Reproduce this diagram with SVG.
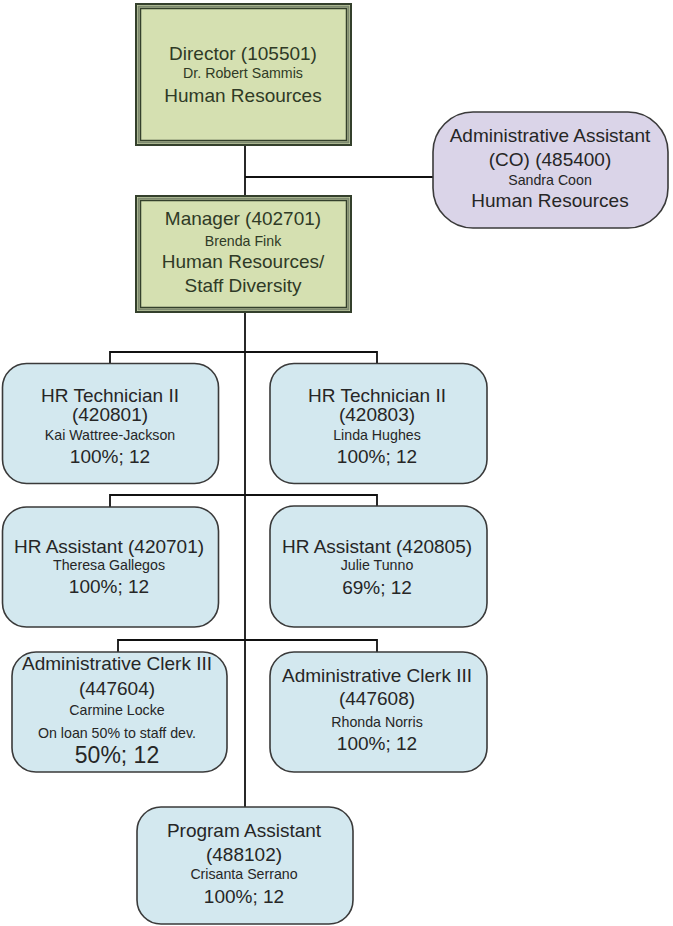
<svg xmlns="http://www.w3.org/2000/svg" width="673" height="926" viewBox="0 0 673 926">
<style>
.t{font-family:"Liberation Sans",Arial,sans-serif;font-size:19px;fill:#262626;text-anchor:middle}
.s{font-family:"Liberation Sans",Arial,sans-serif;font-size:14.2px;fill:#262626;text-anchor:middle}
.g{fill:#2f3a26}
.blue{fill:#d3e8ef;stroke:#3a3a3a;stroke-width:1.6}
.lav{fill:#dad4e8;stroke:#3a3a3a;stroke-width:1.6}
.go{fill:#d5e0b1;stroke:#34402c;stroke-width:2}
.gm{fill:none;stroke:#7e8a70;stroke-width:2}
.gi{fill:none;stroke:#34402c;stroke-width:1.5}
.c{fill:none;stroke:#111;stroke-width:1.8}
</style>
<rect width="673" height="926" fill="#ffffff"/>
<g id="connectors">
<path class="c" d="M245 146 V807"/>
<path class="c" d="M245 177 H433"/>
<path class="c" d="M110 363 V352 H377 V363"/>
<path class="c" d="M110 507 V495 H377 V506"/>
<path class="c" d="M118 652 V640 H377 V652"/>
</g>
<g id="director">
<rect class="go" x="136" y="4" width="215" height="141"/>
<rect class="gm" x="138.5" y="6.5" width="210" height="136"/>
<rect class="gi" x="140.5" y="8.5" width="206" height="132"/>
<text class="t g" x="243" y="60">Director (105501)</text>
<text class="s g" x="243" y="78">Dr. Robert Sammis</text>
<text class="t g" x="243" y="102">Human Resources</text>
</g>
<g id="admin-assistant">
<rect class="lav" x="433" y="112" width="235" height="116" rx="40"/>
<text class="t" x="550" y="142">Administrative Assistant</text>
<text class="t" x="550" y="166">(CO) (485400)</text>
<text class="s" x="550" y="185">Sandra Coon</text>
<text class="t" x="550" y="207">Human Resources</text>
</g>
<g id="manager">
<rect class="go" x="136" y="196" width="215" height="116"/>
<rect class="gm" x="138.5" y="198.5" width="210" height="111"/>
<rect class="gi" x="140.5" y="200.5" width="206" height="107"/>
<text class="t g" x="243" y="225">Manager (402701)</text>
<text class="s g" x="243" y="246">Brenda Fink</text>
<text class="t g" x="243" y="268">Human Resources/</text>
<text class="t g" x="243" y="292">Staff Diversity</text>
</g>
<g id="hr-tech-1">
<rect class="blue" x="2.5" y="363.5" width="216" height="120" rx="24"/>
<text class="t" x="110" y="402">HR Technician II</text>
<text class="t" x="110" y="421">(420801)</text>
<text class="s" x="110" y="439.5">Kai Wattree-Jackson</text>
<text class="t" x="110" y="463">100%; 12</text>
</g>
<g id="hr-tech-2">
<rect class="blue" x="270" y="363.5" width="217" height="120" rx="24"/>
<text class="t" x="377" y="402">HR Technician II</text>
<text class="t" x="377" y="421">(420803)</text>
<text class="s" x="377" y="439.5">Linda Hughes</text>
<text class="t" x="377" y="463">100%; 12</text>
</g>
<g id="hr-assistant-1">
<rect class="blue" x="2.5" y="507" width="216" height="120" rx="24"/>
<text class="t" x="109" y="553">HR Assistant (420701)</text>
<text class="s" x="109" y="570">Theresa Gallegos</text>
<text class="t" x="109" y="593">100%; 12</text>
</g>
<g id="hr-assistant-2">
<rect class="blue" x="270" y="506" width="217" height="121" rx="24"/>
<text class="t" x="377" y="553">HR Assistant (420805)</text>
<text class="s" x="377" y="570">Julie Tunno</text>
<text class="t" x="377" y="594">69%; 12</text>
</g>
<g id="admin-clerk-1">
<rect class="blue" x="12" y="652" width="215" height="120" rx="24"/>
<text class="t" x="117" y="670">Administrative Clerk III</text>
<text class="t" x="117" y="695">(447604)</text>
<text class="s" x="117" y="715">Carmine Locke</text>
<text class="s" x="117" y="738">On loan 50% to staff dev.</text>
<text class="t" x="117" y="763" style="font-size:23px">50%; 12</text>
</g>
<g id="admin-clerk-2">
<rect class="blue" x="270" y="652" width="217" height="120" rx="24"/>
<text class="t" x="377" y="682">Administrative Clerk III</text>
<text class="t" x="377" y="705">(447608)</text>
<text class="s" x="377" y="727">Rhonda Norris</text>
<text class="t" x="377" y="750">100%; 12</text>
</g>
<g id="program-assistant">
<rect class="blue" x="137" y="807" width="216" height="117" rx="24"/>
<text class="t" x="244" y="837">Program Assistant</text>
<text class="t" x="244" y="861">(488102)</text>
<text class="s" x="244" y="879">Crisanta Serrano</text>
<text class="t" x="244" y="903">100%; 12</text>
</g>
</svg>
